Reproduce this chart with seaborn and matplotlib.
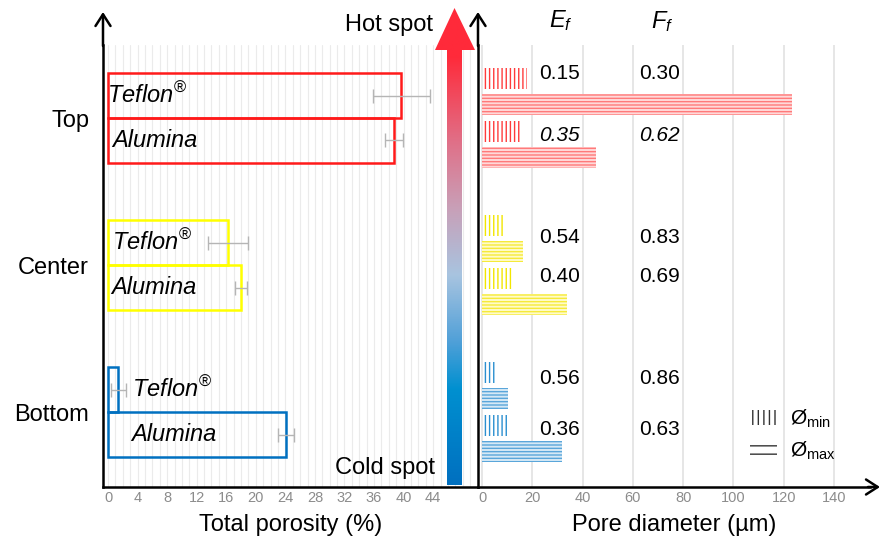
import numpy as np
import pandas as pd
import seaborn as sns
import matplotlib.pyplot as plt
from matplotlib.colors import LinearSegmentedColormap
from matplotlib.patches import Patch, Polygon

groups = ["Top", "Center", "Bottom"]
materials = ["Teflon", "Alumina"]

# total porosity (%) with error
porosity_teflon = [39.7, 16.2, 1.4]
porosity_teflon_err = [3.9, 2.7, 1.0]
porosity_alumina = [38.7, 18.0, 24.1]
porosity_alumina_err = [1.2, 0.8, 1.1]

# pore diameter (um)
dmin_teflon = [17.9, 8.7, 5.2]
dmax_teflon = [123.3, 16.3, 10.2]
dmin_alumina = [15.9, 12.3, 10.8]
dmax_alumina = [45.2, 33.6, 32.0]

ef_teflon = ["0.15", "0.54", "0.56"]
ff_teflon = ["0.30", "0.83", "0.86"]
ef_alumina = ["0.35", "0.40", "0.36"]
ff_alumina = ["0.62", "0.69", "0.63"]

porosity_ticks = list(range(0, 45, 4))
diameter_ticks = list(range(0, 141, 20))

sns.set_theme(style="white")
plt.rcParams["font.family"] = ["Liberation Sans", "DejaVu Sans"]
plt.rcParams["mathtext.fontset"] = "custom"
plt.rcParams["mathtext.rm"] = "Liberation Sans"
plt.rcParams["mathtext.it"] = "Liberation Sans:italic"
plt.rcParams["hatch.linewidth"] = 1.0
plt.rcParams["text.color"] = "black"
plt.rcParams["axes.labelcolor"] = "black"
plt.rcParams["ytick.color"] = "black"

edge = {"Top": "#ff1a1a", "Center": "#ffff00", "Bottom": "#0070c0"}
hatch_min = {"Top": "#ff3b3b", "Center": "#f2e600", "Bottom": "#2b8fd0"}
hatch_max = {"Top": "#ff7a7a", "Center": "#f5ea3a", "Bottom": "#5aa6da"}
fill_max = {"Top": "#ffd9d9", "Center": "#fffbc8", "Bottom": "#d6e9f6"}

df_por = pd.DataFrame({
    "group": groups * 2,
    "material": ["Teflon"] * 3 + ["Alumina"] * 3,
    "porosity": porosity_teflon + porosity_alumina,
})
kinds = ["Teflon min", "Teflon max", "Alumina min", "Alumina max"]
df_pore = pd.DataFrame({
    "group": groups * 4,
    "kind": [k for k in kinds for _ in range(3)],
    "diameter": dmin_teflon + dmax_teflon + dmin_alumina + dmax_alumina,
})

fig = plt.figure(figsize=(8.8, 5.37), dpi=100)
ax1 = fig.add_axes([103 / 880, 50 / 537, 375 / 880, 442 / 537])
ax2 = fig.add_axes([478 / 880, 50 / 537, 392 / 880, 442 / 537])
ylim = (2.510, -0.4966)

# left panel: total porosity
sns.barplot(data=df_por, x="porosity", y="group", hue="material",
            order=groups, hue_order=materials, orient="h", width=0.612,
            errorbar=None, legend=False, ax=ax1)
for cont in ax1.containers:
    for bar in cont:
        g = groups[int(round(bar.get_y() + bar.get_height() / 2))]
        bar.set_facecolor("none")
        bar.set_edgecolor(edge[g])
        bar.set_linewidth(1.8)
        bar.set_zorder(3)

pos = np.arange(len(groups))
ax1.errorbar(porosity_teflon, pos - 0.153, xerr=porosity_teflon_err, fmt="none",
             ecolor="#b5b5b5", elinewidth=1, capsize=4.7, zorder=4)
ax1.errorbar(porosity_alumina, pos + 0.153, xerr=porosity_alumina_err, fmt="none",
             ecolor="#b5b5b5", elinewidth=1, capsize=4.7, zorder=4)

label_x = [(-0.1, 0.5), (0.5, 0.4), (3.2, 3.2)]
for i, g in enumerate(groups):
    ax1.text(label_x[i][0], i - 0.153, r"$\mathit{Teflon}^{\mathrm{®}}$",
             fontsize=17, va="center", ha="left", zorder=5)
    ax1.text(label_x[i][1], i + 0.153, "Alumina", fontstyle="italic",
             fontsize=17, va="center", ha="left", zorder=5)

ax1.set_xlim(-0.68, 50.07)
ax1.set_ylim(*ylim)
ax1.set_xticks(porosity_ticks)
ax1.set_xticks(np.arange(0, 50), minor=True)
ax1.grid(axis="x", which="both", color="#ebebeb", lw=0.8)
ax1.set_axisbelow(True)
ax1.set_yticks(pos)
ax1.set_yticklabels(groups, fontsize=17)
ax1.tick_params(axis="y", length=0, pad=10, labelcolor="black")
ax1.tick_params(axis="x", which="both", length=0, pad=3, labelsize=10.5, labelcolor="#8c8c8c")
ax1.set_xlabel("Total porosity (%)", fontsize=17, labelpad=6)
ax1.set_ylabel("")

# right panel: pore diameter
sns.barplot(data=df_pore, x="diameter", y="group", hue="kind",
            order=groups, hue_order=kinds, orient="h", width=0.72, gap=0.2,
            errorbar=None, legend=False, ax=ax2)
for k, cont in enumerate(ax2.containers):
    for bar in cont:
        g = groups[int(round(bar.get_y() + bar.get_height() / 2))]
        bar.set_linewidth(0)
        bar.set_zorder(3)
        if k % 2 == 0:
            bar.set_facecolor("none")
            bar.set_edgecolor(hatch_min[g])
            bar.set_hatch("||||")
        else:
            bar.set_facecolor(fill_max[g])
            bar.set_edgecolor(hatch_max[g])
            bar.set_hatch("-----")

row_off = [(-0.306, 0.116), (-0.184, 0.075), (-0.231, 0.116)]
for i, g in enumerate(groups):
    style = "italic" if g == "Top" else "normal"
    ax2.text(30.8, i + row_off[i][0], ef_teflon[i], fontsize=15, ha="center", va="center")
    ax2.text(70.5, i + row_off[i][0], ff_teflon[i], fontsize=15, ha="center", va="center")
    ax2.text(30.8, i + row_off[i][1], ef_alumina[i], fontsize=15, ha="center", va="center",
             fontstyle=style)
    ax2.text(70.5, i + row_off[i][1], ff_alumina[i], fontsize=15, ha="center", va="center",
             fontstyle=style)

ax2.set_xlim(-1.6, 154.3)
ax2.set_ylim(*ylim)
ax2.set_xticks(diameter_ticks)
ax2.grid(axis="x", color="#e2e2e2", lw=1.2)
ax2.set_axisbelow(True)
ax2.set_yticks([])
ax2.tick_params(axis="x", length=0, pad=3, labelsize=10.5, labelcolor="#8c8c8c")
ax2.set_xlabel("Pore diameter (µm)", fontsize=17, labelpad=6)
ax2.set_ylabel("")

handles = [Patch(facecolor="none", edgecolor="#333333", hatch="|||", lw=0),
           Patch(facecolor="none", edgecolor="#333333", hatch="--", lw=0)]
ax2.legend(handles, [r"Ø$_{\mathrm{min}}$", r"Ø$_{\mathrm{max}}$"],
           loc="upper left", bbox_to_anchor=((750 - 478) / 392, (487 - 408) / 442),
           frameon=False, fontsize=15, handlelength=1.3, handleheight=0.7,
           handletextpad=0.6, labelspacing=0.45, borderpad=0, borderaxespad=0)

for ax in (ax1, ax2):
    ax.spines["top"].set_visible(False)
    ax.spines["right"].set_visible(False)
    for s in ("left", "bottom"):
        ax.spines[s].set_color("black")
        ax.spines[s].set_linewidth(1.8)

# overlay in pixel coordinates: axis arrows, gradient arrow, annotations
ov = fig.add_axes([0, 0, 1, 1])
ov.set_xlim(0, 880)
ov.set_ylim(537, 0)
ov.axis("off")

arrow_kw = dict(arrowstyle="->,head_length=0.7,head_width=0.45", lw=1.8,
                color="black", shrinkA=0, shrinkB=0)
ov.annotate("", xy=(103, 12), xytext=(103, 46), arrowprops=arrow_kw)
ov.annotate("", xy=(478, 12), xytext=(478, 46), arrowprops=arrow_kw)
ov.annotate("", xy=(880, 487), xytext=(868, 487), arrowprops=arrow_kw)

cmap = LinearSegmentedColormap.from_list("hotcold", [
    (0.0, "#0070c0"), (0.2, "#0090d0"), (0.3, "#50a0d8"), (0.44, "#a8c4e0"),
    (0.58, "#c8a0b8"), (0.72, "#e07088"), (0.9, "#ff2a3a"), (1.0, "#ff2a3a")])
grad = np.linspace(1, 0, 256).reshape(-1, 1)
im = ov.imshow(grad, cmap=cmap, vmin=0, vmax=1, extent=[434, 476, 485, 8], aspect="auto")
shape = Polygon([(447, 485), (447, 50), (435, 50), (454.5, 8), (475, 50), (462, 50), (462, 485)],
                closed=True, facecolor="none", edgecolor="none", transform=ov.transData)
ov.add_patch(shape)
im.set_clip_path(shape)
ov.set_xlim(0, 880)
ov.set_ylim(537, 0)

ov.text(433, 25, "Hot spot", fontsize=17, ha="right", va="center")
ov.text(435, 468, "Cold spot", fontsize=17, ha="right", va="center")
ov.text(561, 21, r"$E_f$", fontsize=17, ha="center", va="center")
ov.text(662, 22, r"$F_f$", fontsize=17, ha="center", va="center")

fig.savefig("out.png", dpi=100)
